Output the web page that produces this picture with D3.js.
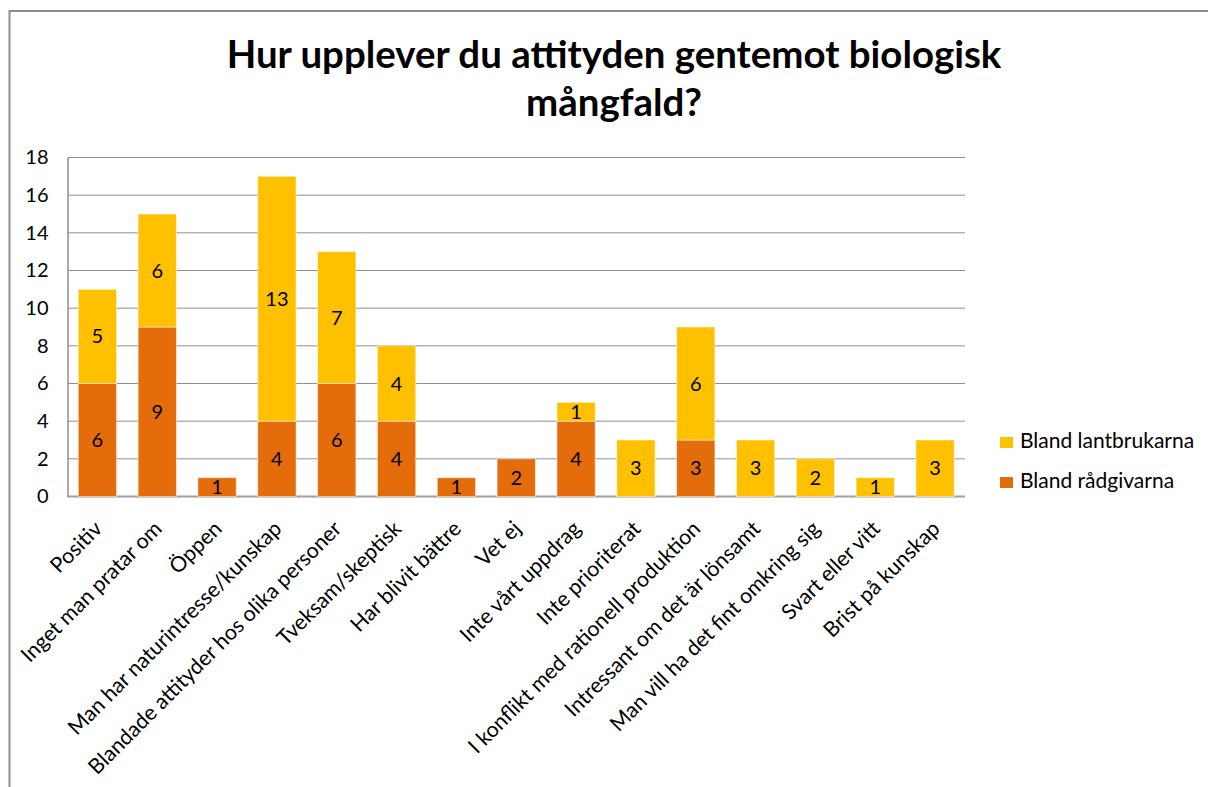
<!DOCTYPE html>
<html>
<head>
<meta charset="utf-8">
<script src="https://cdn.jsdelivr.net/npm/d3@7/dist/d3.min.js"></script>
<style>
  body { margin: 0; background: #fff; }
  text { font-family: Lato, "Open Sans", sans-serif; fill: #000; }
</style>
</head>
<body>
<div id="chart"></div>
<script>
const width = 1208, height = 787;

const categories = [
    "Positiv", "Inget man pratar om", "Öppen", "Man har naturintresse/kunskap",
    "Blandade attityder hos olika personer", "Tveksam/skeptisk", "Har blivit bättre",
    "Vet ej", "Inte vårt uppdrag", "Inte prioriterat", "I konflikt med rationell produktion",
    "Intressant om det är lönsamt", "Man vill ha det fint omkring sig", "Svart eller vitt",
    "Brist på kunskap"
];
const radgivarna = [6, 9, 1, 4, 6, 4, 1, 2, 4, 0, 3, 0, 0, 0, 0];
const lantbrukarna = [5, 6, 0, 13, 7, 4, 0, 0, 1, 3, 6, 3, 2, 1, 3];
const seriesNames = ["Bland rådgivarna", "Bland lantbrukarna"];
const colors = ["#E46C0A", "#FFC000"];
const yTicks = [0, 2, 4, 6, 8, 10, 12, 14, 16, 18];
const titleLines = ["Hur upplever du attityden gentemot biologisk", "mångfald?"];

const margin = { left: 67.5, right: 965, top: 157.5, bottom: 496.5 };

var svg = d3.select("#chart").append("svg")
    .attr("width", width)
    .attr("height", height);

// outer chart frame
svg.append("rect")
    .attr("x", 9.5).attr("y", 11)
    .attr("width", width + 20).attr("height", height + 20)
    .attr("fill", "none")
    .attr("stroke", "#8c8c8c")
    .attr("stroke-width", 2);

// title, scaled to the width it has in the picture
var title = svg.append("text")
    .attr("text-anchor", "middle")
    .style("font-weight", "bold")
    .style("font-size", "33px");
title.selectAll("tspan")
    .data(titleLines)
    .enter()
    .append("tspan")
    .attr("x", 614)
    .attr("y", function (d, i) { return 68 + i * 48; })
    .text(function (d) { return d; });
var tw = title.select("tspan").node().getComputedTextLength();
title.style("font-size", (33 * 775 / tw) + "px");

var x = d3.scaleBand()
    .domain(categories)
    .range([margin.left, margin.right])
    .paddingInner(0.36)
    .paddingOuter(0.18);

var y = d3.scaleLinear()
    .domain([0, 18])
    .range([margin.bottom, margin.top]);

// gridlines
svg.append("g")
    .selectAll("line")
    .data(yTicks)
    .enter()
    .append("line")
    .attr("x1", margin.left).attr("x2", margin.right)
    .attr("y1", function (d) { return y(d); })
    .attr("y2", function (d) { return y(d); })
    .attr("stroke", function (d) { return d === 0 ? "#a0a0a0" : "#8f8f8f"; })
    .attr("stroke-width", function (d) { return d === 0 ? 2 : 1; });

// y axis
var yAxis = svg.append("g")
    .attr("transform", "translate(" + margin.left + ",0)")
    .call(d3.axisLeft(y).tickValues(yTicks).tickSize(0).tickPadding(19));
yAxis.select(".domain").attr("stroke", "#8f8f8f").attr("stroke-width", 1.5);
yAxis.selectAll("text")
    .style("font-size", "20px")
    .style("font-family", "Lato, sans-serif")
    .attr("fill", "#000");

// stacked data
var rows = categories.map(function (c, i) {
    return { cat: c, r: radgivarna[i], l: lantbrukarna[i] };
});
var stack = d3.stack()
    .keys(["r", "l"])(rows);

var layers = svg.selectAll(".layer")
    .data(stack)
    .enter()
    .append("g")
    .attr("class", "layer")
    .attr("fill", function (d, i) { return colors[i]; });

layers.selectAll("rect")
    .data(function (d) { return d.filter(function (s) { return s[1] > s[0]; }); })
    .enter()
    .append("rect")
    .attr("x", function (d) { return x(d.data.cat); })
    .attr("width", x.bandwidth())
    .attr("y", function (d) { return y(d[1]); })
    .attr("height", function (d) { return y(d[0]) - y(d[1]); })
    .attr("stroke", "#ffffff")
    .attr("stroke-opacity", 0.5)
    .attr("stroke-width", 1);

// value labels
layers.selectAll("text")
    .data(function (d) { return d.filter(function (s) { return s[1] > s[0]; }); })
    .enter()
    .append("text")
    .attr("x", function (d) { return x(d.data.cat) + x.bandwidth() / 2; })
    .attr("y", function (d) {
        var mid = (y(d[0]) + y(d[1])) / 2;
        return Math.min(mid + 7, y(d[0]) + 1);
    })
    .attr("text-anchor", "middle")
    .style("font-size", "20px")
    .text(function (d) { return d[1] - d[0]; });

// category labels
svg.append("g")
    .selectAll("text")
    .data(categories)
    .enter()
    .append("text")
    .attr("text-anchor", "end")
    .attr("transform", function (d) {
        return "translate(" + (x(d) + x.bandwidth() / 2 + 6) + "," + 530 + ") rotate(-45)";
    })
    .style("font-size", "21.3px")
    .text(function (d) { return d; });

// legend
var legend = svg.append("g")
    .selectAll("g")
    .data([1, 0])
    .enter()
    .append("g")
    .attr("transform", function (d, i) { return "translate(1000," + (437 + i * 40) + ")"; });
legend.append("rect")
    .attr("width", 13).attr("height", 11)
    .attr("fill", function (d) { return colors[d]; });
legend.append("text")
    .attr("x", 20).attr("y", 11)
    .style("font-size", "21px")
    .text(function (d) { return seriesNames[d]; });
</script>
</body>
</html>
